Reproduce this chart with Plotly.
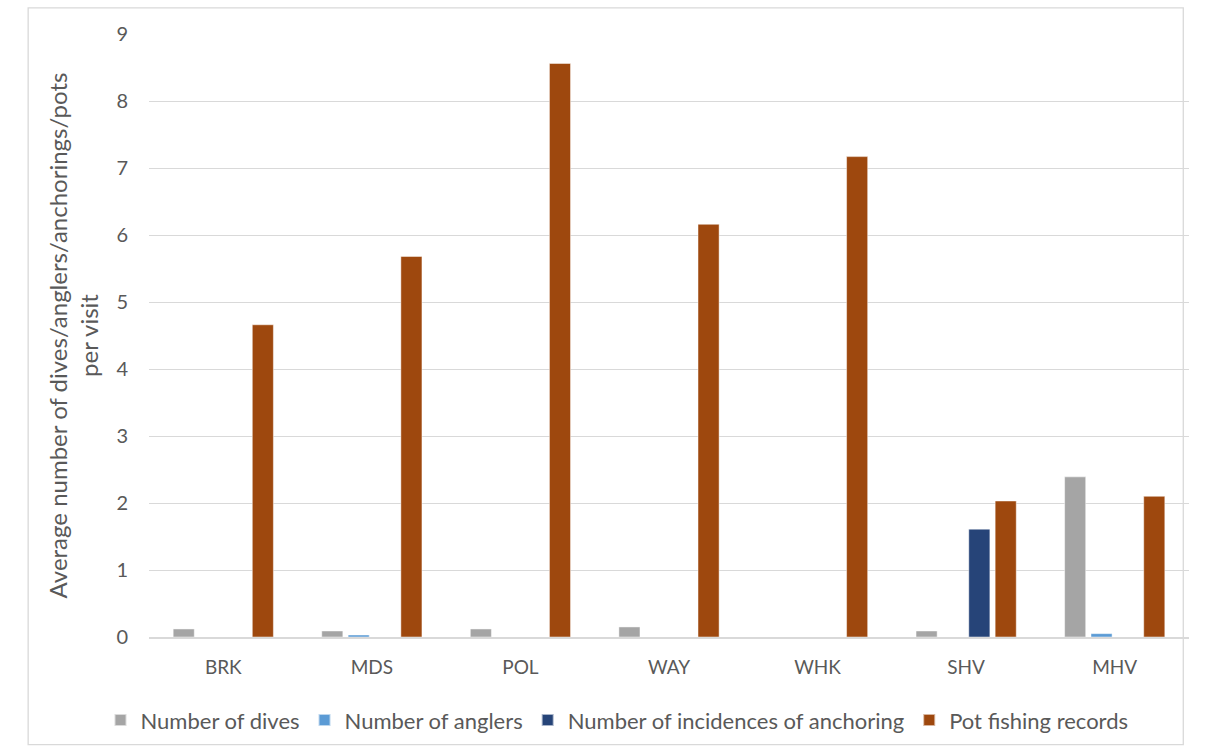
import plotly.graph_objects as go

# Sites and per-visit averages
sites = ["BRK", "MDS", "POL", "WAY", "WHK", "SHV", "MHV"]
dives = [0.12, 0.09, 0.12, 0.15, 0.0, 0.09, 2.39]
anglers = [0.0, 0.03, 0.0, 0.0, 0.0, 0.0, 0.05]
anchoring = [0.0, 0.0, 0.0, 0.0, 0.0, 1.61, 0.0]
pots = [4.66, 5.68, 8.56, 6.16, 7.17, 2.03, 2.10]

series = [
    ("Number of dives", dives, "#a5a5a5"),
    ("Number of anglers", anglers, "#5b9bd5"),
    ("Number of incidences of anchoring", anchoring, "#264478"),
    ("Pot fishing records", pots, "#9e480e"),
]

FONT = "Lato, 'Open Sans', sans-serif"
GREY_TEXT = "#595959"
GRID = "#d9d9d9"

fig = go.Figure()
for name, vals, color in series:
    fig.add_trace(go.Bar(
        x=sites, y=vals, name=name,
        marker=dict(color=color, line=dict(color="rgba(255,255,255,0.6)", width=0.8)),
    ))

fig.update_layout(
    width=1213, height=754,
    paper_bgcolor="white", plot_bgcolor="white",
    margin=dict(l=149, r=24, t=34, b=117),
    barmode="group", bargap=0.29, bargroupgap=0.2,
    font=dict(family=FONT, color=GREY_TEXT),
    showlegend=True,
    legend=dict(
        orientation="h", x=0.45, xanchor="center", y=-0.103, yanchor="top",
        font=dict(size=22, color=GREY_TEXT), itemsizing="constant",
        traceorder="normal", itemwidth=30, bgcolor="rgba(0,0,0,0)",
    ),
    shapes=[dict(
        type="rect", xref="paper", yref="paper",
        x0=-0.1162, x1=0.9945, y0=-0.1784, y1=1.0433,
        line=dict(color=GRID, width=1.3), fillcolor="rgba(0,0,0,0)", layer="below",
    )],
)

fig.update_xaxes(
    showgrid=False, showline=True, linecolor=GRID, linewidth=1.5,
    ticks="", tickfont=dict(size=19, color=GREY_TEXT), ticklabelstandoff=12,
)
fig.update_yaxes(
    range=[0, 9], dtick=1, showgrid=True, gridcolor=GRID, gridwidth=1.3,
    zeroline=False, showline=False, ticks="",
    tickfont=dict(size=20, color=GREY_TEXT), ticklabelstandoff=20,
    title=dict(
        text="Average number of dives/anglers/anchorings/pots<br>per visit",
        font=dict(size=24, color=GREY_TEXT), standoff=10,
    ),
)

fig.write_html("out.html")
